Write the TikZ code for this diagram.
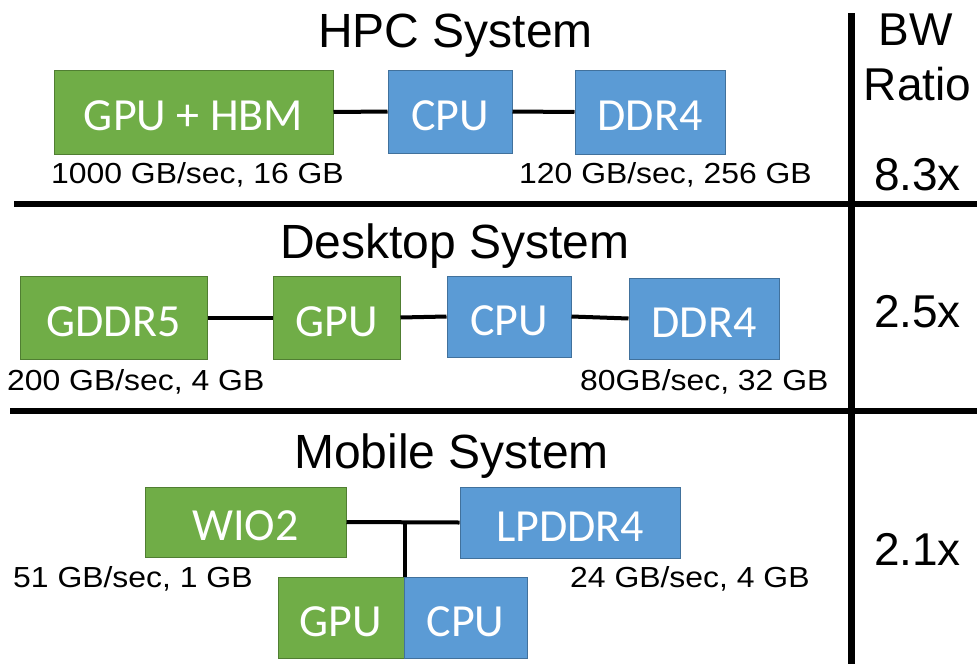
\documentclass[tikz,border=0pt]{standalone}
\usepackage{fontspec}
\setmainfont{Liberation Sans}
\newfontfamily\boxfont{Carlito}
\newfontfamily\lblfont[FakeStretch=1.1]{Liberation Sans}
\definecolor{gfill}{HTML}{70AD47}
\definecolor{gdraw}{HTML}{507E32}
\definecolor{bfill}{HTML}{5B9BD5}
\definecolor{bdraw}{HTML}{41719C}
\tikzset{
  unit/.style={draw, line width=1pt, inner sep=0pt, text=white,
    font=\boxfont\fontsize{46}{46}\selectfont, text height=37pt, text depth=0pt},
  gbox/.style={unit, fill=gfill, draw=gdraw},
  bbox/.style={unit, fill=bbox@c, draw=bdraw},
  bbox@c/.code={},
  bluebox/.style={unit, fill=bfill, draw=bdraw},
  conn/.style={line width=4pt},
  sep/.style={line width=6.5pt},
  lbl/.style={anchor=base west, inner sep=0pt, font=\lblfont\fontsize{29}{29}\selectfont},
  ttl/.style={anchor=base, inner sep=0pt, font=\fontsize{48}{48}\selectfont},
  ratio/.style={anchor=base, inner sep=0pt, font=\fontsize{46}{46}\selectfont}
}
\begin{document}
\begin{tikzpicture}[x=1pt,y=-1pt]
\useasboundingbox (0,0) rectangle (977,664);
\fill[white] (0,0) rectangle (977,664);
% separators
\coordinate (s1a) at (14,204);
\coordinate (s1b) at (977,204);
\coordinate (s2a) at (10,411);
\coordinate (s2b) at (977,411);
\coordinate (va) at (851.5,13);
\coordinate (vb) at (851.5,664);
\draw[sep] (s1a) -- (s1b);
\draw[sep] (s2a) -- (s2b);
\draw[sep] (va) -- (vb);
% right column
\node[ratio] (bw) at (915.5,45) {BW};
\node[ratio] (rt) at (917.5,100) {Ratio};
\node[ratio] (r1) at (917.5,190) {8.3x};
\node[ratio] (r2) at (917.5,327) {2.5x};
\node[ratio] (r3) at (917.5,565) {2.1x};
% HPC
\node[ttl] (t1) at (455.5,47) {HPC System};
\node[gbox, minimum width=279pt, minimum height=84pt] (hgpu) at (193.5,112) {GPU + HBM};
\node[bluebox, minimum width=124pt, minimum height=83pt] (hcpu) at (450,111.5) {CPU};
\node[bluebox, minimum width=150pt, minimum height=84pt] (hddr) at (650,112) {DDR4};
\draw[conn] (hgpu.east) -- (hcpu.west);
\draw[conn] (hcpu.east) -- (hddr.west);
\node[lbl] (l1) at (51,183) {1000 GB/sec, 16 GB};
\node[lbl] (l2) at (519,183) {120 GB/sec, 256 GB};
% Desktop
\node[ttl] (t2) at (455,258) {Desktop System};
\node[gbox, minimum width=187pt, minimum height=83pt] (dgddr) at (113.5,317.5) {GDDR5};
\node[gbox, minimum width=127pt, minimum height=83pt] (dgpu) at (336.5,317.5) {GPU};
\node[bluebox, minimum width=124pt, minimum height=81pt] (dcpu) at (509,316.5) {CPU};
\node[bluebox, minimum width=150pt, minimum height=81pt] (dddr) at (704,318.5) {DDR4};
\draw[conn] (dgddr.east) -- (dgpu.west);
\draw[conn] (dgpu.east) -- (dcpu.west);
\draw[conn] (dcpu.east) -- (dddr.west);
\node[lbl] (l3) at (7,390) {200 GB/sec, 4 GB};
\node[lbl] (l4) at (580,390) {80GB/sec, 32 GB};
% Mobile
\node[ttl] (t3) at (451.5,468) {Mobile System};
\node[gbox, minimum width=201pt, minimum height=70pt] (wio) at (245.5,522) {WIO2};
\node[bluebox, minimum width=220pt, minimum height=71pt] (lpddr) at (570,522.5) {LPDDR4};
\node[gbox, minimum width=126pt, minimum height=81pt] (mgpu) at (341,617.5) {GPU};
\node[bluebox, minimum width=123pt, minimum height=81pt] (mcpu) at (465.5,617.5) {CPU};
\coordinate (j) at (mgpu.north east |- wio.east);
\draw[conn] (wio.east) -- (lpddr.west);
\draw[conn] (j) -- (mgpu.north east);
\node[lbl] (l5) at (13,587) {51 GB/sec, 1 GB};
\node[lbl] (l6) at (570,587) {24 GB/sec, 4 GB};
\end{tikzpicture}
\end{document}
